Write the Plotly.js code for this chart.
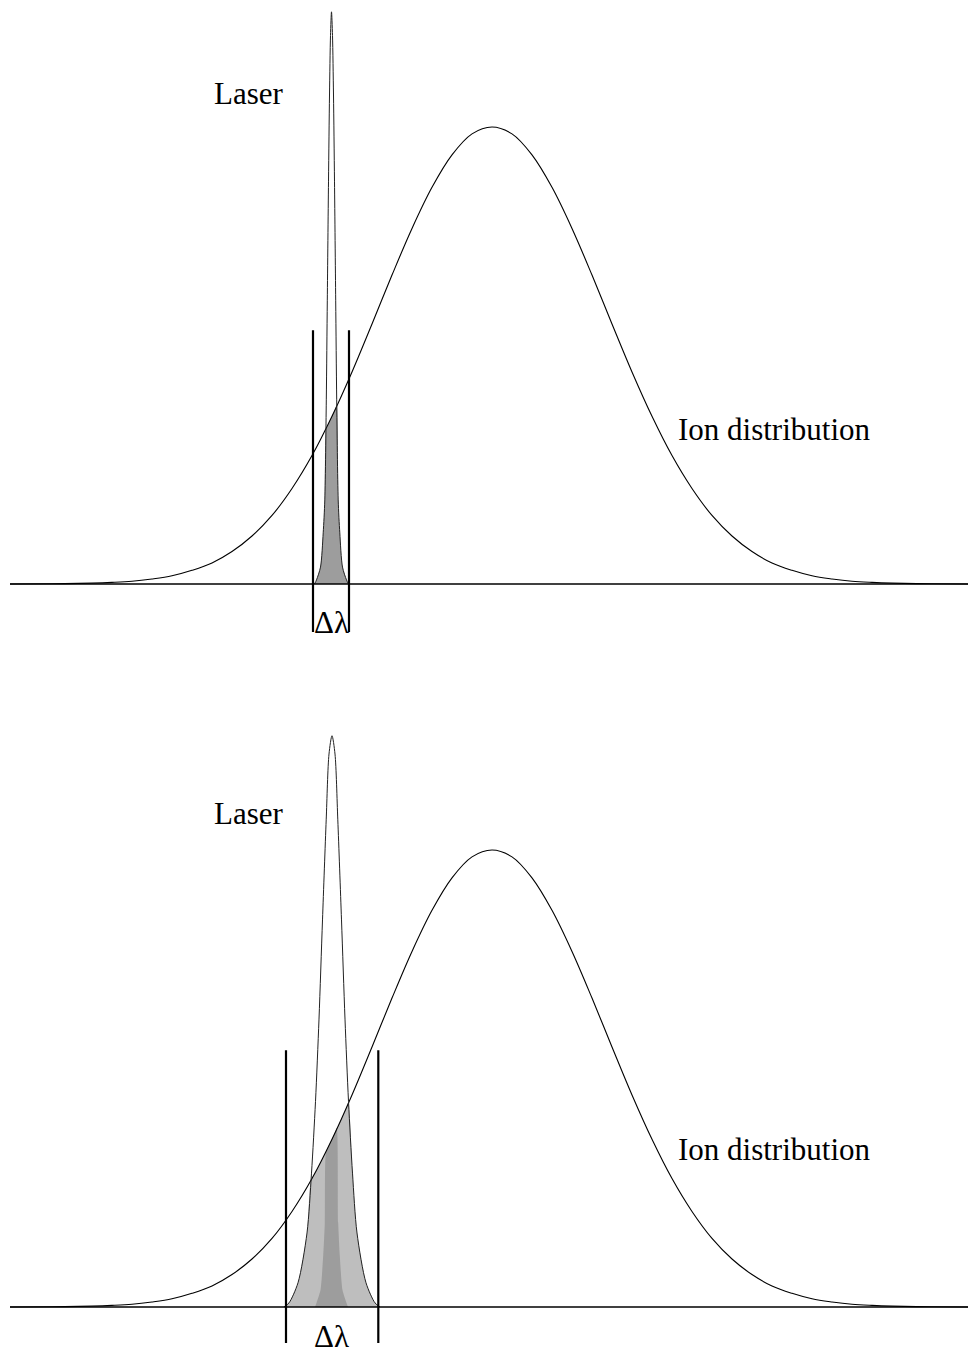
<!DOCTYPE html>
<html>
<head>
<meta charset="utf-8">
<script src="https://cdn.plot.ly/plotly-3.0.1.min.js"></script>
<style>html,body{margin:0;padding:0;background:#fff;}#chart{width:968px;height:1355px;}</style>
</head>
<body>
<div id="chart"></div>
<script>
// ---- Data (arbitrary units: x = wavelength, y = intensity, ion peak = 100) ----
// Ion distribution (same in both panels)
const ionX = [10, 52, 92, 112, 132, 152, 172, 192, 212, 232, 252, 272, 292, 312, 332, 352, 372, 392, 412, 432, 452, 472, 492,
              512, 532, 552, 572, 592, 612, 632, 652, 672, 692, 712, 732, 752, 772, 792, 812, 832, 852, 872, 892, 932, 968];
const ionY = [0, 0.05, 0.2, 0.35, 0.6, 1.1, 1.8, 3.0, 4.6, 7.1, 10.5, 15.0, 20.9, 28.1, 36.7, 46.4, 56.9, 67.6, 77.8, 86.8, 93.9, 98.5, 100,
              98.5, 93.9, 86.8, 77.8, 67.6, 56.9, 46.4, 36.7, 28.1, 20.9, 15.0, 10.5, 7.1, 4.6, 3.0, 1.8, 1.1, 0.6, 0.35, 0.2, 0.05, 0];

// Narrow laser line (top panel)
const laserNarrowX = [314.5, 316.5, 320.5, 323.2, 324.8, 326.3, 327.3, 328.5, 329.5, 330.5, 331.5,
                      332.5, 333.5, 334.5, 335.7, 336.7, 338.2, 339.8, 342.5, 346.5, 348.5];
const laserNarrowY = [0, 0.9, 3.7, 11.2, 18.4, 40.3, 62.1, 88, 107, 120, 125.2,
                      120, 107, 88, 62.1, 40.3, 18.4, 11.2, 3.7, 0.9, 0];

// Broad laser line (bottom panel)
const laserBroadX = [284, 289, 298, 307, 311.5, 315.5, 319, 322.5, 326.2, 329, 332,
                     335, 337.8, 341.5, 345, 348.5, 352.5, 357, 366, 375, 380];
const laserBroadY = [0, 0.9, 5.3, 16.2, 29.3, 45, 63, 84.7, 106.6, 121, 125,
                     121, 106.6, 84.7, 63, 45, 29.3, 16.2, 5.3, 0.9, 0];

// Overlap (laser within ion distribution) for narrow laser
const overlapNarrowX = [315, 316.5, 320.5, 323.2, 324.8, 325.85, 328.5, 331.5, 334.5, 336.8, 338.2, 339.8, 342.5, 346.5, 348];
const overlapNarrowY = [0, 0.9, 3.7, 11.2, 18.4, 33.7, 35.1, 36.5, 37.9, 39.2, 18.4, 11.2, 3.7, 0.9, 0];

// Overlap for broad laser
const overlapBroadX = [284, 289, 298, 307, 311, 315, 320, 325, 330, 335, 340, 345, 348.4, 352.5, 357, 366, 375, 380];
const overlapBroadY = [0, 0.9, 5.3, 16.2, 28, 29.3, 31.4, 33.6, 35.9, 38.1, 40.5, 42.9, 44.8, 29.3, 16.2, 5.3, 0.9, 0];

// Baseline extent
const baseX = [10, 968];
const baseY = [0, 0];

// Δλ bracket lines
const bracketTopX = [313, 349];
const bracketTopY = [55.5, -10.5];
const bracketBottomX = [286, 378.3];
const bracketBottomY = [56.2, -7.9];

// Labels
const labelText = ['Laser', 'Ion distribution', 'Δλ'];
const labelX = [249, 774.5, 331];
const labelYTop = [107.3, 33.8, -8.4];
const labelYBottom = [107.9, 34.4, -6.5];

// ---- Build ----
const DARK = '#9d9d9d', LIGHT = '#bebebe';
function line(x, y, xa, ya, opts) {
  return Object.assign({type:'scatter', mode:'lines', x:x, y:y, xaxis:xa, yaxis:ya, hoverinfo:'skip',
    line:{color:'#000', width:1.1, shape:'spline', smoothing:1}}, opts || {});
}
const traces = [];
// top panel
traces.push(line(overlapNarrowX, overlapNarrowY, 'x', 'y', {fill:'tozeroy', fillcolor:DARK, line:{width:0, color:DARK, shape:'spline', smoothing:0.6}}));
traces.push(line(ionX, ionY, 'x', 'y'));
traces.push(line(laserNarrowX, laserNarrowY, 'x', 'y', {line:{color:'#222', width:1, shape:'spline', smoothing:0.8}}));
traces.push(line(baseX, baseY, 'x', 'y', {line:{color:'#000', width:1.4}}));
bracketTopX.forEach(function(bx){
  traces.push(line([bx, bx], bracketTopY, 'x', 'y', {line:{color:'#000', width:2.2}}));
});
// bottom panel
traces.push(line(overlapBroadX, overlapBroadY, 'x2', 'y2', {fill:'tozeroy', fillcolor:LIGHT, line:{width:0, color:LIGHT, shape:'spline', smoothing:0.6}}));
traces.push(line(overlapNarrowX, overlapNarrowY, 'x2', 'y2', {fill:'tozeroy', fillcolor:DARK, line:{width:0, color:DARK, shape:'spline', smoothing:0.6}}));
traces.push(line(ionX, ionY, 'x2', 'y2'));
traces.push(line(laserBroadX, laserBroadY, 'x2', 'y2', {line:{color:'#222', width:1, shape:'spline', smoothing:0.8}}));
traces.push(line(baseX, baseY, 'x2', 'y2', {line:{color:'#000', width:1.4}}));
bracketBottomX.forEach(function(bx){
  traces.push(line([bx, bx], bracketBottomY, 'x2', 'y2', {line:{color:'#000', width:2.2}}));
});

const font = {family:'Liberation Serif, Times New Roman, serif', size:31, color:'#000'};
const annotations = [];
labelText.forEach(function(t, i){
  annotations.push({text:t, x:labelX[i], y:labelYTop[i], xref:'x', yref:'y', showarrow:false, xanchor:'center', yanchor:'middle', font:font});
  annotations.push({text:t, x:labelX[i], y:labelYBottom[i], xref:'x2', yref:'y2', showarrow:false, xanchor:'center', yanchor:'middle', font:font});
});

const H = 1355, PH = 632;
const yr = [-10.50, 127.79];
const layout = {
  width:968, height:H, margin:{l:0, r:0, t:0, b:0},
  paper_bgcolor:'#fff', plot_bgcolor:'#fff', showlegend:false,
  font:{family:'Liberation Serif, Times New Roman, serif'},
  xaxis:{domain:[0,1], range:[0,968], visible:false, anchor:'y', fixedrange:true},
  yaxis:{domain:[1-PH/H, 1], range:yr, visible:false, anchor:'x', fixedrange:true},
  xaxis2:{domain:[0,1], range:[0,968], visible:false, anchor:'y2', fixedrange:true},
  yaxis2:{domain:[0, PH/H], range:yr, visible:false, anchor:'x2', fixedrange:true},
  annotations:annotations
};
Plotly.newPlot('chart', traces, layout, {staticPlot:true, displayModeBar:false});
</script>
</body>
</html>
